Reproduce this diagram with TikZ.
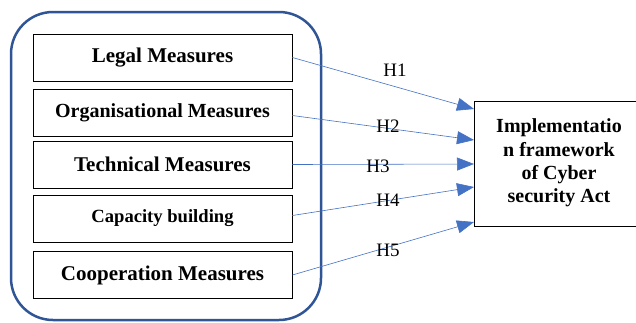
\documentclass[tikz,border=0pt]{standalone}
\usepackage{fontspec}
\setmainfont{Liberation Serif}
\usetikzlibrary{arrows.meta}

\definecolor{frameblue}{RGB}{47,85,151}
\definecolor{arrowblue}{RGB}{68,114,196}

\tikzset{
  measure/.style={draw,thick,minimum width=259pt,minimum height=47pt,inner sep=0pt,
    font=\bfseries\fontsize{21}{24}\selectfont},
  hyp/.style={draw=arrowblue,semithick,-{Triangle[length=17pt,width=13pt]}},
  hlabel/.style={font=\fontsize{19}{22}\selectfont,inner sep=0pt}
}

\begin{document}
\begin{tikzpicture}[x=1pt,y=-1pt]
\useasboundingbox (0,0) rectangle (636,322);

% Outer frame round the five measures.
\draw[color=frameblue,line width=2.5pt,rounded corners=42pt] (11,12) rectangle (321,320);

\node[measure] (legal) at (162.5,57.5) {Legal Measures};
\node[measure,font=\bfseries\fontsize{20}{24}\selectfont] (organ) at (162.5,112.5) {Organisational Measures};
\node[measure] (techn) at (162.5,164.5) {Technical Measures};
\node[measure,font=\bfseries\fontsize{18.6}{22}\selectfont] (capac) at (162.5,218.5) {Capacity building};
\node[measure] (coop) at (162.5,275) {Cooperation Measures};

\node[draw,thick,minimum width=170pt,minimum height=125pt,inner sep=0pt,anchor=north west] (impl) at (474,101) {};
\node[align=center,font=\bfseries\fontsize{20}{23.3}\selectfont] (impltext) at (559,163)
  {Implementatio\\n framework\\of Cyber\\security Act};

% End points of the hypotheses on the left side of the target box.
\coordinate (e1) at (474,109);
\coordinate (e2) at (474,140);
\coordinate (e3) at (474,164);
\coordinate (e4) at (474,187);
\coordinate (e5) at (474,222);

\draw[hyp] (legal.east) -- (e1);
\draw[hyp] ([yshift=-3pt]organ.east) -- (e2);
\draw[hyp] (techn.east) -- (e3);
\draw[hyp] ([yshift=3pt]capac.east) -- (e4);
\draw[hyp] (coop.east) -- (e5);

\node[hlabel] (h1) at (395,70) {H1};
\node[hlabel] (h2) at (388,126) {H2};
\node[hlabel] (h3) at (378,166) {H3};
\node[hlabel] (h4) at (388,200) {H4};
\node[hlabel] (h5) at (388,250) {H5};
\end{tikzpicture}
\end{document}
